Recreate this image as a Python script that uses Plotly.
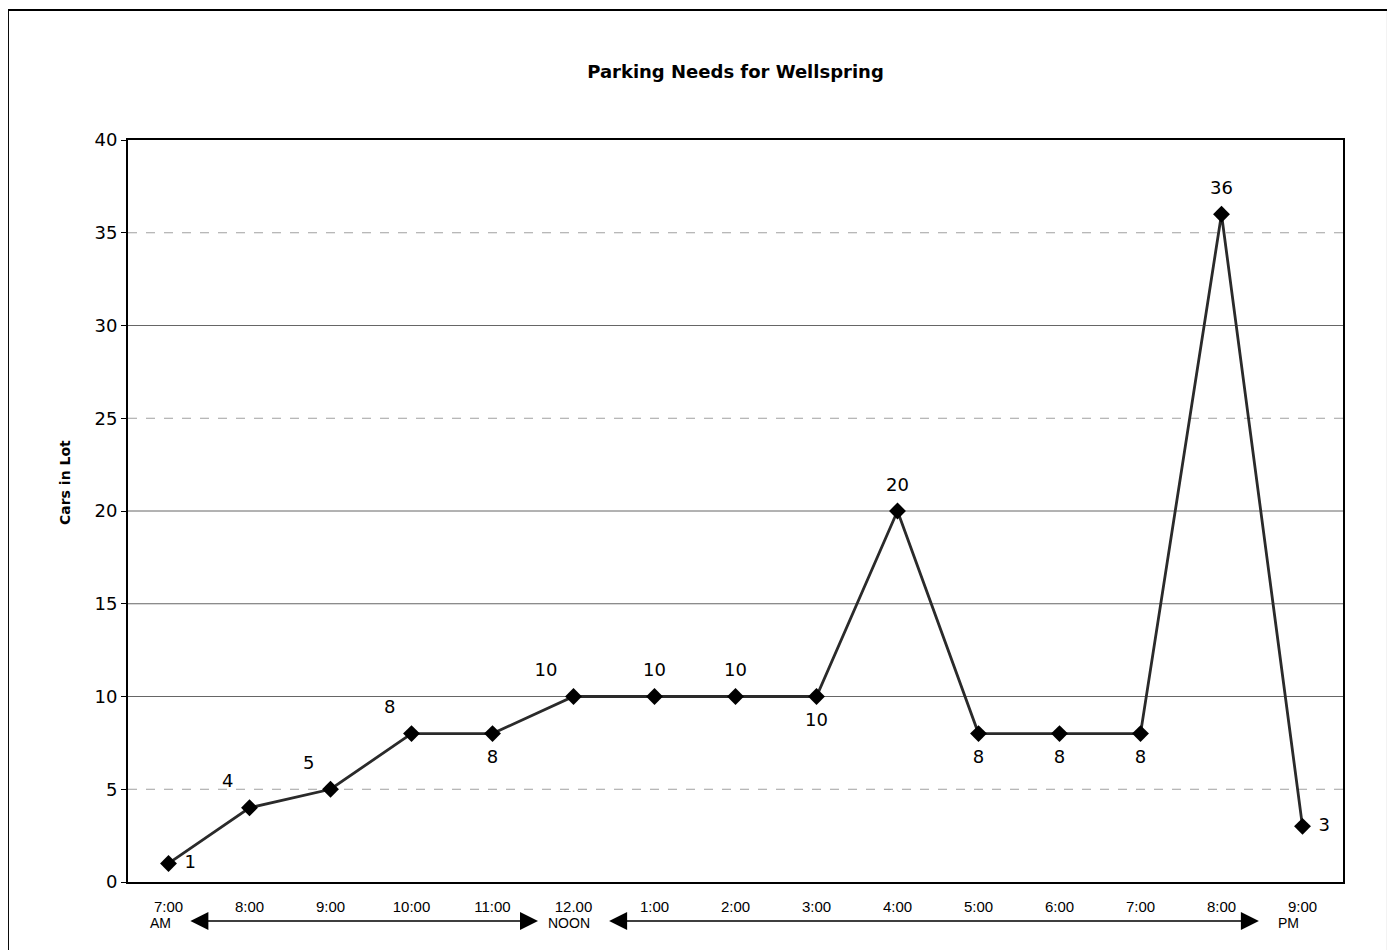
import plotly.graph_objects as go

# ---- data ----
times = ["7:00", "8:00", "9:00", "10:00", "11:00", "12.00", "1:00", "2:00",
         "3:00", "4:00", "5:00", "6:00", "7:00", "8:00", "9:00"]
sub_labels = {0: "AM", 5: "NOON", 14: "PM"}
cars = [1, 4, 5, 8, 8, 10, 10, 10, 10, 20, 8, 8, 8, 36, 3]
label_pos = ["middle right", "top left", "top left", "top left", "bottom center",
             "top left", "top center", "top center", "bottom center", "top center",
             "bottom center", "bottom center", "bottom center", "top center",
             "middle right"]
y_ticks = [0, 5, 10, 15, 20, 25, 30, 35, 40]
faint_grid = [5, 25, 35]
# arrow spans below the axis (category units: head, tail)
arrows = [(0.27, 4.58), (5.44, 13.48)]

x_idx = list(range(len(times)))

fig = go.Figure()
fig.add_trace(go.Scatter(
    x=x_idx, y=cars, mode="lines+markers",
    line=dict(color="#2a2a2a", width=2.8),
    marker=dict(symbol="diamond", size=13, color="black"),
    cliponaxis=False, showlegend=False, hoverinfo="skip"))
# data labels (invisible larger markers push the labels a bit further out)
fig.add_trace(go.Scatter(
    x=x_idx, y=cars, mode="markers+text",
    marker=dict(size=24, color="rgba(0,0,0,0)"),
    text=[str(v) for v in cars], textposition=label_pos,
    textfont=dict(family="DejaVu Sans", size=18, color="black"),
    cliponaxis=False, showlegend=False, hoverinfo="skip"))

shapes = []
for v in y_ticks[1:-1]:
    faint = v in faint_grid
    shapes.append(dict(type="line", xref="paper", yref="y", x0=0, x1=1, y0=v, y1=v,
                       line=dict(color="#a0a0a0" if faint else "#666666", width=1,
                                 dash="dash" if faint else "solid"),
                       layer="below"))
# outer frame around the whole chart
shapes.append(dict(type="rect", xref="paper", yref="paper",
                   x0=-0.0988, x1=1.037, y0=-0.12, y1=1.1752,
                   line=dict(color="black", width=2)))

annotations = []
for i, s in sub_labels.items():
    annotations.append(dict(x=i, y=0, xref="x", yref="paper", text=s, showarrow=False,
                            yanchor="middle", yshift=-41,
                            xshift={0: -8, 5: -5, 14: -14}[i],
                            font=dict(family="Liberation Sans", size=14, color="black")))
for head, tail in arrows:
    annotations.append(dict(x=head, y=0, xref="x", yref="paper", ax=tail, ay=0,
                            axref="x", ayref="pixel", text="", showarrow=True,
                            arrowside="end+start", arrowhead=2, arrowsize=2.4,
                            arrowwidth=1.5, arrowcolor="black", yshift=-39))
# y-axis title
annotations.append(dict(x=-0.0519, y=0.539, xref="paper", yref="paper",
                        text="<b>Cars in Lot</b>", textangle=-90, showarrow=False,
                        xanchor="center", yanchor="middle",
                        font=dict(family="DejaVu Sans", size=14, color="black")))

fig.update_layout(
    width=1387, height=942,
    margin=dict(l=120, r=52, t=132, b=68),
    paper_bgcolor="white", plot_bgcolor="white",
    title=dict(text="<b>Parking Needs for Wellspring</b>", x=0.5, xref="paper",
               y=1 - 64 / 942, yanchor="middle",
               font=dict(family="DejaVu Sans", size=18, color="black")),
    shapes=shapes, annotations=annotations,
    xaxis=dict(range=[-0.5, len(times) - 0.5], tickmode="array", tickvals=x_idx,
               ticktext=times, showgrid=False, zeroline=False,
               showline=True, linecolor="black", linewidth=2, mirror=True,
               ticks="", ticklabelstandoff=10,
               tickfont=dict(family="Liberation Sans", size=15, color="black")),
    yaxis=dict(range=[0, 40], tickmode="array", tickvals=y_ticks, showgrid=False,
               zeroline=False, showline=True, linecolor="black", linewidth=2,
               mirror=True, ticks="outside", ticklen=5, tickcolor="black",
               tickfont=dict(family="DejaVu Sans", size=18, color="black")),
)

fig.write_html("out.html")
